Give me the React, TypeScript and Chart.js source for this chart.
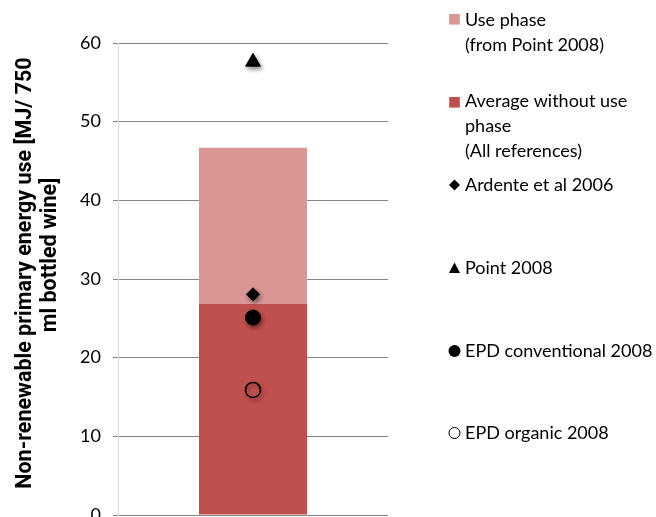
import React, { useEffect, useRef } from "react";
import { Chart, registerables } from "chart.js";

Chart.register(...registerables);

// ---- data ----
const categories = [""];
const averageWithoutUse = [26.85];
const usePhase = [19.85];
const ardente2006 = [28.05];
const point2008 = [57.6];
const epdConventional2008 = [25.1];
const epdOrganic2008 = [15.9];
const yTickValues = [0, 10, 20, 30, 40, 50, 60];
const yTitleLines = ["Non-renewable primary energy use [MJ/ 750", "ml bottled wine]"];

const legendLabels = [
  ["Use phase", "(from Point 2008)"],
  ["Average without use", "phase", "(All references)"],
  ["Ardente et al 2006"],
  ["Point 2008"],
  ["EPD conventional 2008"],
  ["EPD organic 2008"],
];

// ---- styles / layout ----
const PINK = "#D99694";
const RED = "#C0504D";
const FONT = "Lato, 'Open Sans', sans-serif";
const TITLE_FONT = "Roboto, 'Liberation Sans', sans-serif";
const legendMarkers = ["square-pink", "square-red", "diamond", "triangle", "circle", "circle-open"];
const legendFirstBaselines = [25.7, 107, 190.7, 274, 357.3, 439];
const legendMarkerCenters = [19.3, 102.3, 185, 268, 351, 433];
const LEGEND_LINE = 25;
const LEGEND_MARKER_X = 454.5;
const LEGEND_TEXT_X = 465;

const shadowPlugin = {
  id: "markerShadow",
  beforeDatasetDraw(chart: any, args: any) {
    const ds = chart.data.datasets[args.index];
    if (ds.type === "line") {
      const ctx = chart.ctx;
      ctx.save();
      ctx.shadowColor = "rgba(0,0,0,0.45)";
      ctx.shadowBlur = 4;
      ctx.shadowOffsetX = 1.5;
      ctx.shadowOffsetY = 2.5;
    }
  },
  afterDatasetDraw(chart: any, args: any) {
    const ds = chart.data.datasets[args.index];
    if (ds.type === "line") chart.ctx.restore();
  },
};

const decorPlugin = {
  id: "decor",
  afterDraw(chart: any) {
    const ctx: CanvasRenderingContext2D = chart.ctx;
    ctx.save();
    // y-axis title
    ctx.fillStyle = "#000";
    ctx.font = `bold 21.5px ${TITLE_FONT}`;
    ctx.textAlign = "center";
    ctx.textBaseline = "alphabetic";
    const titlePos = [
      { x: 31, y: 273 },
      { x: 56, y: 255 },
    ];
    yTitleLines.forEach((line, i) => {
      ctx.save();
      ctx.translate(titlePos[i].x, titlePos[i].y);
      ctx.rotate(-Math.PI / 2);
      ctx.fillText(line, 0, 0);
      ctx.restore();
    });

    // legend
    ctx.font = `18px ${FONT}`;
    ctx.textAlign = "left";
    legendLabels.forEach((lines, i) => {
      lines.forEach((t, j) => {
        ctx.fillStyle = "#000";
        ctx.fillText(t, LEGEND_TEXT_X, legendFirstBaselines[i] + j * LEGEND_LINE);
      });
      const cx = LEGEND_MARKER_X;
      const cy = legendMarkerCenters[i];
      const m = legendMarkers[i];
      ctx.beginPath();
      if (m === "square-pink" || m === "square-red") {
        ctx.fillStyle = m === "square-pink" ? PINK : RED;
        ctx.fillRect(cx - 5.3, cy - 5.3, 10.6, 10.6);
      } else if (m === "diamond") {
        ctx.fillStyle = "#000";
        ctx.moveTo(cx - 5.5, cy);
        ctx.lineTo(cx, cy - 5.5);
        ctx.lineTo(cx + 5.5, cy);
        ctx.lineTo(cx, cy + 5.5);
        ctx.closePath();
        ctx.fill();
      } else if (m === "triangle") {
        ctx.fillStyle = "#000";
        ctx.moveTo(cx - 5.5, cy + 5);
        ctx.lineTo(cx, cy - 5.5);
        ctx.lineTo(cx + 5.5, cy + 5);
        ctx.closePath();
        ctx.fill();
      } else if (m === "circle") {
        ctx.fillStyle = "#000";
        ctx.arc(cx, cy, 6, 0, Math.PI * 2);
        ctx.fill();
      } else {
        ctx.strokeStyle = "#000";
        ctx.lineWidth = 1;
        ctx.arc(cx, cy, 5.5, 0, Math.PI * 2);
        ctx.stroke();
      }
    });
    ctx.restore();
  },
};

export default function App() {
  const ref = useRef<HTMLCanvasElement>(null);

  useEffect(() => {
    if (!ref.current) return;
    const pointDs = (label: string, data: number[], style: string, radius: number, bg: string) => ({
      type: "line" as const,
      label,
      data,
      showLine: false,
      pointStyle: style,
      pointRadius: radius,
      pointHoverRadius: radius,
      pointBackgroundColor: bg,
      pointBorderColor: "#000",
      pointBorderWidth: bg === "transparent" ? 1.5 : 1,
      backgroundColor: bg,
      borderColor: "#000",
    });

    const chart = new Chart(ref.current, {
      data: {
        labels: categories,
        datasets: [
          pointDs("Point 2008", point2008, "triangle", 8.5, "#000"),
          pointDs("Ardente et al 2006", ardente2006, "rectRot", 6.5, "#000"),
          pointDs("EPD conventional 2008", epdConventional2008, "circle", 7.5, "#000"),
          pointDs("EPD organic 2008", epdOrganic2008, "circle", 7.5, "transparent"),
          {
            type: "bar" as const,
            label: "Average without use phase (All references)",
            data: averageWithoutUse.map((v) => [0, v]) as any,
            backgroundColor: RED,
            grouped: false,
            categoryPercentage: 1,
            barPercentage: 0.4,
          },
          {
            type: "bar" as const,
            label: "Use phase (from Point 2008)",
            data: usePhase.map((v, i) => [averageWithoutUse[i], averageWithoutUse[i] + v]) as any,
            backgroundColor: PINK,
            grouped: false,
            categoryPercentage: 1,
            barPercentage: 0.4,
          },
        ],
      } as any,
      options: {
        responsive: false,
        animation: false,
        layout: { autoPadding: false, padding: { top: 43, bottom: 2, left: 0, right: 268 } },
        plugins: { legend: { display: false }, tooltip: { enabled: false } },
        scales: {
          x: { type: "category", display: false, offset: true },
          y: {
            min: 0,
            max: 60,
            afterBuildTicks: (scale: any) => {
              scale.ticks = yTickValues.map((v) => ({ value: v }));
            },
            afterFit: (scale: any) => {
              scale.width = 118;
              scale.paddingTop = 0;
              scale.paddingBottom = 0;
            },
            grid: { color: "#868686", tickLength: 5, lineWidth: 1 },
            border: { color: "#D9D9D9", width: 1 },
            ticks: {
              padding: 12,
              color: "#000",
              font: { family: FONT, size: 18 },
            },
          },
        },
      } as any,
      plugins: [shadowPlugin, decorPlugin],
    });
    return () => chart.destroy();
  }, []);

  return (
    <div style={{ position: "absolute", left: 0, top: 0, width: 656, height: 517, background: "#fff" }}>
      <canvas ref={ref} width={656} height={517} style={{ display: "block" }} />
    </div>
  );
}
